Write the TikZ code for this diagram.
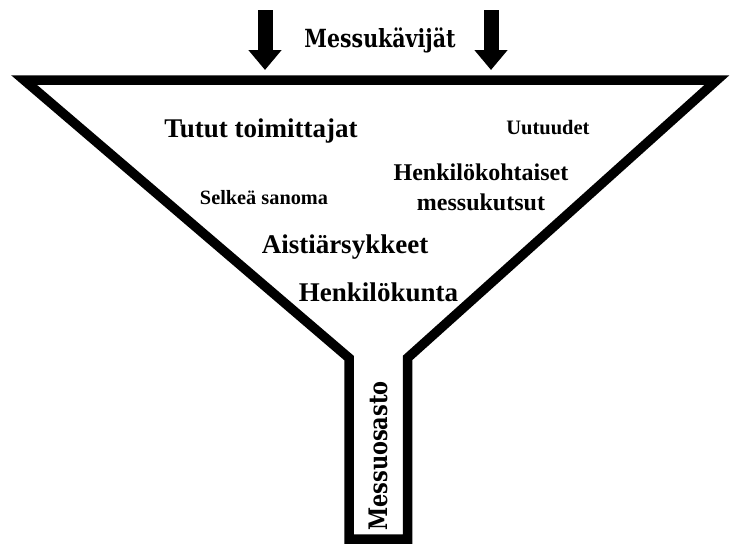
\documentclass[tikz,border=0pt]{standalone}
\usepackage{fontspec}
\usepackage{graphicx}
\setmainfont{Liberation Serif}
\newfontfamily\slabfont{DejaVu Serif}
\usetikzlibrary{arrows.meta}

% Narrow heavy slab lettering
\newcommand{\slabtext}[2]{\scalebox{0.82}[1]{\slabfont\bfseries\fontsize{#1}{#1}\selectfont #2}}

\begin{document}
\begin{tikzpicture}[x=1pt, y=-1pt]
    % Define styles
    \tikzset{
        funnel/.style={draw=black, line width=9.5pt, line join=miter},
        inflow/.style={line width=15pt, -{Triangle[width=32pt,length=20pt]}},
        label/.style={font=\bfseries, inner sep=0pt},
        slab/.style={inner sep=0pt}
    }

    % Fix the page size
    \useasboundingbox (0,0) rectangle (732,544);

    % Define the corners of the funnel
    \coordinate (TL) at (24,80);
    \coordinate (TR) at (717,80);
    \coordinate (NR) at (407.5,358);
    \coordinate (BR) at (407.5,539);
    \coordinate (BL) at (349,539);
    \coordinate (NL) at (349,358);

    % Draw the funnel
    \draw[funnel] (TL) -- (TR) -- (NR) -- (BR) -- (BL) -- (NL) -- cycle;

    % Draw the arrows going in
    \coordinate (inLtop) at (265,10);
    \coordinate (inLend) at (265,70);
    \coordinate (inRtop) at (491,10);
    \coordinate (inRend) at (491,70);
    \draw[inflow] (inLtop) -- (inLend);
    \draw[inflow] (inRtop) -- (inRend);

    % Labels
    \node[slab] (kavijat) at (380,40) {\slabtext{25}{Messukävijät}};
    \node[slab, rotate=90] (osasto) at (378,456) {\slabtext{25.5}{Messuosasto}};

    \node[label, font=\bfseries\fontsize{27}{30}\selectfont] (tutut) at (261,131) {Tutut toimittajat};
    \node[label, font=\bfseries\fontsize{20.5}{24}\selectfont] (uutuudet) at (548,128) {Uutuudet};
    \node[label, align=center, font=\bfseries\fontsize{24}{30}\selectfont] (kutsut) at (481,187) {Henkilökohtaiset\\messukutsut};
    \node[label, font=\bfseries\fontsize{20.3}{24}\selectfont] (selkea) at (264,198) {Selkeä sanoma};
    \node[label, font=\bfseries\fontsize{27}{30}\selectfont] (aisti) at (345,247) {Aistiärsykkeet};
    \node[label, font=\bfseries\fontsize{27}{30}\selectfont] (henkilo) at (378.5,292) {Henkilökunta};
\end{tikzpicture}
\end{document}
